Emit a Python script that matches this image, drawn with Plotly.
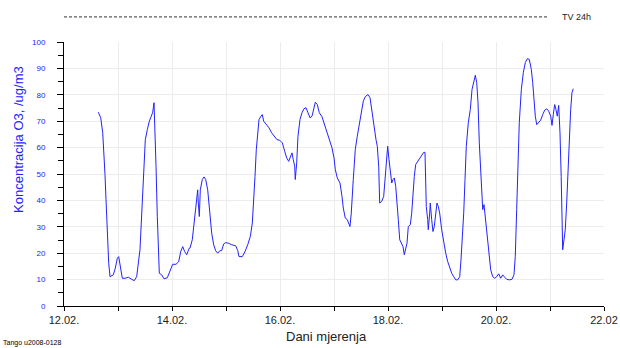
import plotly.graph_objects as go

# Day of February (fractional) and O3 concentration (ug/m3)
days = [
    12.635, 12.680, 12.717, 12.741, 12.759, 12.778, 12.802, 12.828, 12.852, 12.913,
    12.950, 12.987, 13.013, 13.037, 13.080, 13.130, 13.191, 13.254, 13.302, 13.346,
    13.383, 13.407, 13.431, 13.457, 13.481, 13.506, 13.543, 13.580, 13.617, 13.643,
    13.667, 13.680, 13.704, 13.728, 13.754, 13.765, 13.809, 13.852, 13.913, 13.963,
    14.013, 14.074, 14.124, 14.161, 14.198, 14.235, 14.272, 14.320, 14.333, 14.376,
    14.413, 14.450, 14.476, 14.487, 14.506, 14.524, 14.561, 14.593, 14.624, 14.661,
    14.698, 14.735, 14.772, 14.809, 14.846, 14.883, 14.920, 14.957, 14.994, 15.043,
    15.106, 15.180, 15.217, 15.241, 15.302, 15.352, 15.402, 15.450, 15.487, 15.513,
    15.537, 15.561, 15.587, 15.611, 15.648, 15.672, 15.698, 15.746, 15.796, 15.846,
    15.894, 15.944, 15.994, 16.043, 16.087, 16.124, 16.161, 16.198, 16.222, 16.246,
    16.272, 16.283, 16.309, 16.333, 16.370, 16.407, 16.444, 16.481, 16.519, 16.556,
    16.593, 16.617, 16.654, 16.691, 16.728, 16.778, 16.815, 16.865, 16.913, 16.963,
    17.000, 17.024, 17.061, 17.111, 17.148, 17.172, 17.209, 17.246, 17.296, 17.320,
    17.357, 17.394, 17.431, 17.469, 17.506, 17.543, 17.580, 17.630, 17.667, 17.704,
    17.741, 17.778, 17.802, 17.828, 17.846, 17.883, 17.920, 17.944, 17.969, 17.994,
    18.019, 18.043, 18.069, 18.093, 18.117, 18.143, 18.167, 18.191, 18.217, 18.241,
    18.278, 18.302, 18.328, 18.352, 18.376, 18.413, 18.439, 18.463, 18.487, 18.513,
    18.550, 18.587, 18.624, 18.661, 18.685, 18.698, 18.709, 18.735, 18.746, 18.772,
    18.783, 18.809, 18.833, 18.857, 18.883, 18.907, 18.931, 18.957, 18.994, 19.031,
    19.069, 19.106, 19.143, 19.180, 19.217, 19.254, 19.291, 19.328, 19.352, 19.376,
    19.402, 19.426, 19.450, 19.487, 19.524, 19.556, 19.593, 19.617, 19.643, 19.667,
    19.691, 19.717, 19.741, 19.754, 19.778, 19.802, 19.828, 19.852, 19.876, 19.902,
    19.939, 19.976, 20.013, 20.050, 20.087, 20.124, 20.161, 20.198, 20.246, 20.296,
    20.333, 20.357, 20.383, 20.407, 20.431, 20.469, 20.506, 20.543, 20.580, 20.617,
    20.654, 20.680, 20.704, 20.728, 20.754, 20.791, 20.828, 20.865, 20.902, 20.939,
    20.976, 21.013, 21.037, 21.061, 21.087, 21.111, 21.135, 21.161, 21.185, 21.207,
    21.222, 21.235, 21.259, 21.283, 21.309, 21.333, 21.357, 21.383, 21.407, 21.431,
]
o3 = [
    73.4, 71.3, 65.6, 58.0, 49.8, 40.3, 26.3, 16.2, 11.1, 11.8,
    14.3, 18.1, 18.7, 15.6, 10.5, 10.5, 10.9, 10.1, 9.6, 11.1,
    16.2, 21.3, 31.4, 44.0, 55.4, 63.0, 66.8, 70.0, 71.9, 73.4,
    77.0, 70.0, 52.9, 33.9, 20.0, 12.4, 11.8, 10.3, 10.7, 13.0,
    15.8, 15.8, 16.8, 20.6, 22.5, 20.6, 19.4, 21.9, 21.9, 25.1,
    31.4, 39.0, 44.0, 39.0, 33.9, 44.0, 47.9, 48.9, 47.9, 44.0,
    36.5, 27.6, 23.2, 20.9, 20.0, 20.9, 21.0, 23.5, 24.0, 23.8,
    23.2, 22.8, 21.0, 18.7, 18.7, 20.6, 23.2, 26.3, 31.4, 39.0,
    49.1, 59.2, 66.8, 70.6, 71.9, 72.5, 70.0, 68.7, 67.5, 65.6,
    64.1, 63.0, 62.8, 61.8, 58.6, 56.1, 54.8, 57.3, 58.0, 55.4,
    52.9, 47.9, 54.2, 64.3, 70.6, 73.2, 74.7, 75.1, 73.2, 71.3,
    71.9, 74.4, 77.2, 76.3, 73.2, 71.7, 69.4, 66.8, 63.7, 59.9,
    56.1, 51.7, 48.5, 46.6, 41.5, 37.1, 33.3, 32.7, 30.1, 35.2,
    47.9, 59.2, 64.3, 69.4, 73.2, 77.6, 79.3, 80.1, 78.9, 73.2,
    68.1, 63.0, 60.5, 52.9, 39.0, 39.6, 41.5, 47.9, 54.2, 60.5,
    55.4, 50.4, 46.6, 47.9, 48.5, 45.3, 40.3, 32.7, 25.1, 23.8,
    22.5, 19.4, 21.3, 23.8, 30.1, 30.8, 35.2, 42.8, 49.1, 53.6,
    54.8, 55.7, 57.3, 58.2, 58.2, 47.9, 37.7, 32.7, 28.9, 35.2,
    39.0, 32.7, 28.2, 30.1, 33.9, 39.0, 37.7, 35.2, 28.9, 23.8,
    20.0, 16.8, 14.3, 12.4, 11.1, 9.9, 9.9, 11.1, 17.5, 25.1,
    35.2, 47.9, 60.5, 69.4, 74.4, 82.0, 85.8, 87.4, 84.6, 77.0,
    61.8, 50.4, 41.5, 36.5, 38.4, 33.9, 28.9, 22.5, 17.5, 13.7,
    11.1, 10.5, 11.1, 12.2, 10.5, 11.8, 10.9, 10.1, 9.9, 10.1,
    11.8, 18.7, 36.5, 56.7, 69.4, 82.0, 88.4, 92.2, 93.7, 93.4,
    89.6, 84.6, 77.0, 71.9, 68.7, 69.6, 70.4, 72.5, 74.2, 74.7,
    73.8, 71.9, 68.4, 72.5, 76.3, 74.4, 71.9, 76.0, 65.6, 49.1,
    31.4, 21.3, 25.1, 28.9, 39.0, 50.4, 64.3, 74.4, 80.8, 82.3,
]

x_tick_vals = [12, 14, 16, 18, 20, 22]
x_tick_text = ["12.02.", "14.02.", "16.02.", "18.02.", "20.02.", "22.02"]

BLUE = "#2222ff"
FONT = "Liberation Sans"

fig = go.Figure()
fig.add_trace(go.Scatter(
    x=days, y=o3, mode="lines",
    line=dict(color=BLUE, width=1),
    name="O3", showlegend=False,
))

fig.update_layout(
    width=620, height=348,
    margin=dict(l=64, r=16, t=42, b=42, autoexpand=False),
    paper_bgcolor="white", plot_bgcolor="white",
    font=dict(family=FONT, color="black"),
    showlegend=False,
)

fig.update_xaxes(
    range=[12, 22], automargin=False,
    tickmode="array", tickvals=x_tick_vals, ticktext=x_tick_text,
    tickfont=dict(size=11, color="#222222", family=FONT),
    ticks="outside", ticklen=4, tickcolor="black",
    showline=True, linecolor="black", linewidth=1,
    showgrid=True, gridcolor="#ececec", gridwidth=1,
    minor=dict(dtick=1, tick0=12, showgrid=True, gridcolor="#ececec",
               ticks="outside", ticklen=4, tickcolor="black"),
    zeroline=False,
)

fig.update_yaxes(
    range=[0, 100], automargin=False,
    tick0=0, dtick=10,
    tickfont=dict(size=8, color=BLUE, family=FONT),
    ticks="outside", ticklen=6, tickcolor="black",
    ticklabelstandoff=10,
    showline=True, linecolor="black", linewidth=1,
    showgrid=True, gridcolor="#ececec", gridwidth=1,
    minor=dict(dtick=5, showgrid=False, ticks="outside", ticklen=5, tickcolor="black"),
    zeroline=False,
)

# Y axis title
fig.add_annotation(
    text="Koncentracija O3, /ug/m3", textangle=-90,
    xref="paper", yref="paper", x=-0.0833, y=0.629,
    xanchor="center", yanchor="middle", showarrow=False,
    font=dict(size=13, color=BLUE, family=FONT),
)
# X axis title
fig.add_annotation(
    text="Dani mjerenja",
    xref="paper", yref="paper", x=0.487, y=-0.117,
    xanchor="center", yanchor="middle", showarrow=False,
    font=dict(size=13, color="#222222", family=FONT),
)
# Footer
fig.add_annotation(
    text="Tango u2008-0128",
    xref="paper", yref="paper", x=-0.117, y=-0.142,
    xanchor="left", yanchor="middle", showarrow=False,
    font=dict(size=7, color="black", family=FONT),
)
# Legend-like limit value key (TV 24h)
fig.add_shape(
    type="line", xref="paper", yref="paper",
    x0=0, x1=0.896, y0=1.095, y1=1.095,
    line=dict(color="#333333", width=1, dash="3px,2px"),
)
fig.add_annotation(
    text="TV 24h",
    xref="paper", yref="paper", x=0.918, y=1.095,
    xanchor="left", yanchor="middle", showarrow=False,
    font=dict(size=9, color="#222222", family=FONT),
)

fig.write_html(
    "out.html",
    config={"displayModeBar": False},
    post_script="document.body.style.margin='0';",
)
